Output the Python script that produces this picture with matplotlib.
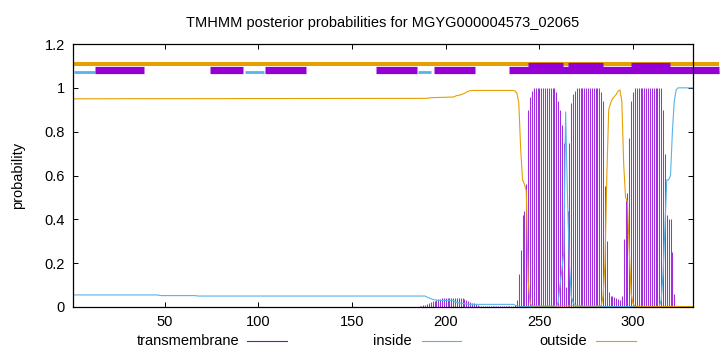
import numpy as np
import matplotlib
matplotlib.use("Agg")
import matplotlib.pyplot as plt
from matplotlib.lines import Line2D

plt.rcParams['font.family'] = ['Liberation Sans', 'DejaVu Sans']

title = "TMHMM posterior probabilities for MGYG000004573_02065"
seq_len = 332

# transmembrane posterior, one value per residue from tm_first on
tm_first = 186
tm_vals = ([0.005, 0.005, 0.008, 0.01,
            0.015, 0.018, 0.022, 0.027, 0.028, 0.03, 0.035, 0.038]
           + [0.04] * 12
           + [0.035, 0.03, 0.027, 0.022, 0.02, 0.018, 0.012, 0.008]
           + [0.003] * 18
           + [0.004, 0.01, 0.03, 0.15, 0.26, 0.42, 0.44, 0.56, 0.9, 0.96, 0.985]
           + [1.0] * 12
           + [0.98, 0.94, 0.9, 0.83, 0.75, 0.09, 0.44, 0.75, 0.93, 0.97, 0.985]
           + [1.0] * 13
           + [0.98, 0.94, 0.55, 0.3, 0.07, 0.05, 0.05, 0.045, 0.04, 0.035, 0.03,
              0.05, 0.31, 0.49, 0.52, 0.77, 0.94, 0.98]
           + [1.0] * 15
           + [0.9, 0.7, 0.42, 0.4, 0.4, 0.25, 0.06]
           + [0.002] * 10)

# inside posterior (residue, value)
inside_pos = [1, 46, 48, 66, 68, 189, 190, 193, 196, 204, 206, 210, 213, 236, 238, 240,
              259, 260, 261, 262, 263, 264, 265, 266, 267, 268, 269, 271,
              314, 315, 316, 317, 318, 319, 320, 321, 322, 323, 324, 332]
inside_val = [0.055, 0.055, 0.052, 0.052, 0.05, 0.05, 0.045, 0.035, 0.03, 0.03, 0.02, 0.015, 0.012, 0.012, 0.005, 0.002,
              0.002, 0.02, 0.1, 0.17, 0.25, 0.89, 0.5, 0.2, 0.05, 0.02, 0.01, 0.002,
              0.002, 0.03, 0.15, 0.36, 0.58, 0.58, 0.6, 0.8, 0.94, 0.99, 1.0, 1.0]

# outside posterior (residue, value)
outside_pos = [1, 190, 192, 196, 204, 206, 208, 210, 212, 214, 236, 237, 238, 239, 240, 241, 242, 243, 244, 245, 246,
               283, 284, 285, 286, 287, 288, 289, 290, 291, 292, 293, 294, 295, 296, 297, 298, 299, 300, 301, 332]
outside_val = [0.95, 0.952, 0.955, 0.956, 0.958, 0.965, 0.968, 0.975, 0.985, 0.988, 0.988, 0.985, 0.975, 0.93, 0.72, 0.58, 0.56, 0.53, 0.12, 0.02, 0.005,
               0.005, 0.05, 0.2, 0.6, 0.9, 0.93, 0.95, 0.96, 0.97, 0.985, 0.99, 0.94, 0.65, 0.5, 0.48, 0.25, 0.06, 0.015, 0.003, 0.002]

# topology bars above the curves (start, end)
outside_bar = [(1, 346)]
tm_bar_low = [(12.5, 39), (74, 92), (103.7, 125.5), (162.6, 184.7), (193.6, 215.4), (234, 346)]
tm_bar_high = [(244, 262.6), (265.3, 284), (299, 319.7)]
inside_bar = [(1.5, 12.5), (92.8, 103), (185, 192), (284, 289), (321.7, 331.5), (344.6, 346)]

c_tm = '#9400d3'
c_in = '#56b4e9'
c_out = '#e69f00'

fig = plt.figure(figsize=(7.2, 3.52), dpi=100)
ax = fig.add_axes([73 / 720, 1 - 307 / 352, 620 / 720, 263 / 352])

res = np.arange(tm_first, tm_first + len(tm_vals))
ax.vlines(res, 0, tm_vals, color='#a22ddc', lw=0.75)
ax.plot(inside_pos, inside_val, color=c_in, lw=0.8)
ax.plot(outside_pos, outside_val, color=c_out, lw=0.8)

for a, b in outside_bar:
    ax.plot([a, b], [1.11, 1.11], color=c_out, lw=2.9, solid_capstyle='butt', clip_on=False)
for a, b in inside_bar:
    ax.plot([a, b], [1.071, 1.071], color=c_in, lw=2.0, solid_capstyle='butt', clip_on=False)
for a, b in tm_bar_low:
    ax.plot([a, b], [1.083, 1.083], color=c_tm, lw=5.2, solid_capstyle='butt', clip_on=False)
for a, b in tm_bar_high:
    ax.plot([a, b], [1.098, 1.098], color=c_tm, lw=5.2, solid_capstyle='butt', clip_on=False)

ax.set_xlim(1, seq_len)
ax.set_ylim(0, 1.2)
ax.set_xticks([50, 100, 150, 200, 250, 300])
ax.set_yticks([0, 0.2, 0.4, 0.6, 0.8, 1.0, 1.2])
ax.set_yticklabels(['0', '0.2', '0.4', '0.6', '0.8', '1', '1.2'])
ax.tick_params(direction='in', length=3.5, width=0.7, top=True, right=True,
               labelsize=10.5, pad=6)
for s in ax.spines.values():
    s.set_linewidth(0.9)
ax.set_ylabel('probability', fontsize=10.5, labelpad=14)
ax.set_title(title, fontsize=10.5, pad=12)

# legend row under the axis
ly = 1 - 341 / 352
for txt, tx, x0, x1, col in [('transmembrane', 239, 247, 287, c_tm),
                             ('inside', 412, 422, 461, c_in),
                             ('outside', 587, 596, 636, c_out)]:
    fig.text(tx / 720, ly, txt, ha='right', va='center', fontsize=10.5)
    fig.add_artist(Line2D([x0 / 720, x1 / 720], [ly, ly], color=col, lw=0.8))

fig.savefig('out.png', dpi=100)
